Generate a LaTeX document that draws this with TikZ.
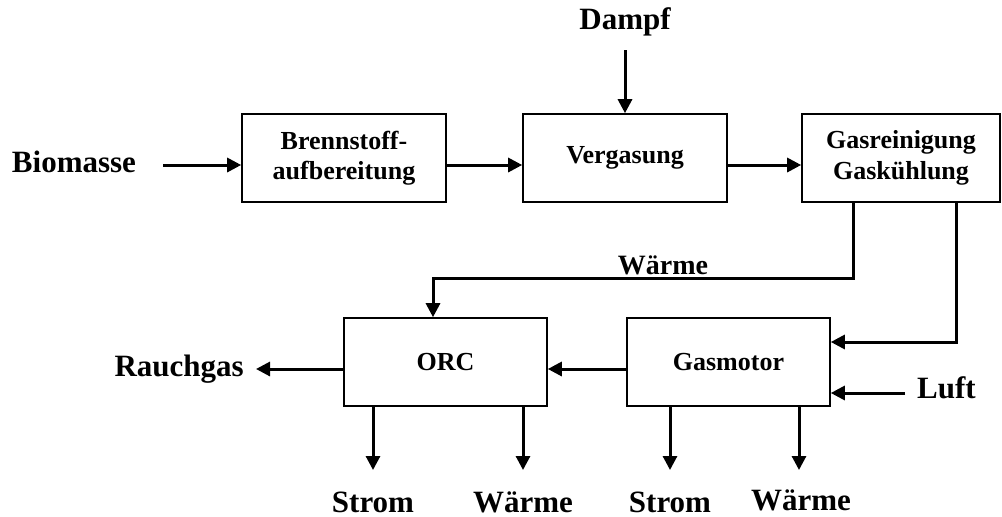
\documentclass[tikz,border=0pt]{standalone}
\usepackage{fontspec}
\setmainfont{Liberation Serif}
\usetikzlibrary{arrows.meta}
\tikzset{%
  box/.style={draw,line width=1.6pt,minimum width=204pt,minimum height=88pt,inner sep=0,align=center,font=\fontsize{26}{30.5}\selectfont\bfseries},
  lbl/.style={inner sep=0,font=\fontsize{31}{31}\selectfont\bfseries},
  flow/.style={line width=3pt,-{Triangle[length=14pt,width=14pt]}}
}

\begin{document}
\begin{tikzpicture}[x=1pt,y=-1pt]
      \useasboundingbox (0,0) rectangle (1002,517);
      \path
        (344,158) node[box] (brenn) {Brennstoff-\\aufbereitung}
        (625,158) node[box] (verg) {Vergasung}
        (901,158) node[box,minimum width=198pt] (gasrein) {Gasreinigung\\Gask\"uhlung}
        (445.5,362) node[box,minimum width=203pt] (orc) {ORC}
        (728.5,362) node[box,minimum width=203pt] (motor) {Gasmotor};
      \path
        (74,162) node[lbl] (bio) {Biomasse}
        (625,22) node[lbl] (dampf) {Dampf}
        (244,369) node[lbl,anchor=east] (rauch) {Rauchgas}
        (917,388) node[lbl,anchor=west] (luft) {Luft}
        (663,265) node[lbl,font=\fontsize{28}{28}\selectfont\bfseries] (waerme_m) {W\"arme}
        (373,502) node[lbl] (strom_o) {Strom}
        (523,502) node[lbl] (waerme_o) {W\"arme}
        (670,502) node[lbl] (strom_g) {Strom}
        (801,500) node[lbl] (waerme_g) {W\"arme};
      \draw[flow] ([yshift=-7pt]brenn.west -| 163,0) -- ([yshift=-7pt]brenn.west);
      \draw[flow] ([yshift=-7pt]brenn.east) -- ([yshift=-7pt]verg.west);
      \draw[flow] ([yshift=-7pt]verg.east) -- ([yshift=-7pt]gasrein.west);
      \draw[flow,shorten <=14pt] (dampf.south) -- (verg.north);
      \draw[flow] ([xshift=-48pt]gasrein.south) -- ++(0,76) -| ([xshift=-12.5pt]orc.north);
      \draw[flow] ([xshift=55pt]gasrein.south) |- ([yshift=20pt]motor.east);
      \draw[flow] ([yshift=-31pt]motor.east -| 905,0) -- ([yshift=-31pt]motor.east);
      \draw[flow] ([yshift=-7pt]motor.west) -- ([yshift=-7pt]orc.east);
      \draw[flow] ([yshift=-7pt]orc.west) -- ([yshift=-7pt]orc.west -| 256,0);
      \draw[flow] (orc.south -| strom_o) -- (strom_o.north |- 0,470);
      \draw[flow] (orc.south -| waerme_o) -- (waerme_o.north |- 0,470);
      \draw[flow] (motor.south -| strom_g) -- (strom_g.north |- 0,470);
      \draw[flow] ([xshift=-2pt]motor.south -| waerme_g) -- ([xshift=-2pt]waerme_g.north |- 0,470);
    \end{tikzpicture}
\end{document}
